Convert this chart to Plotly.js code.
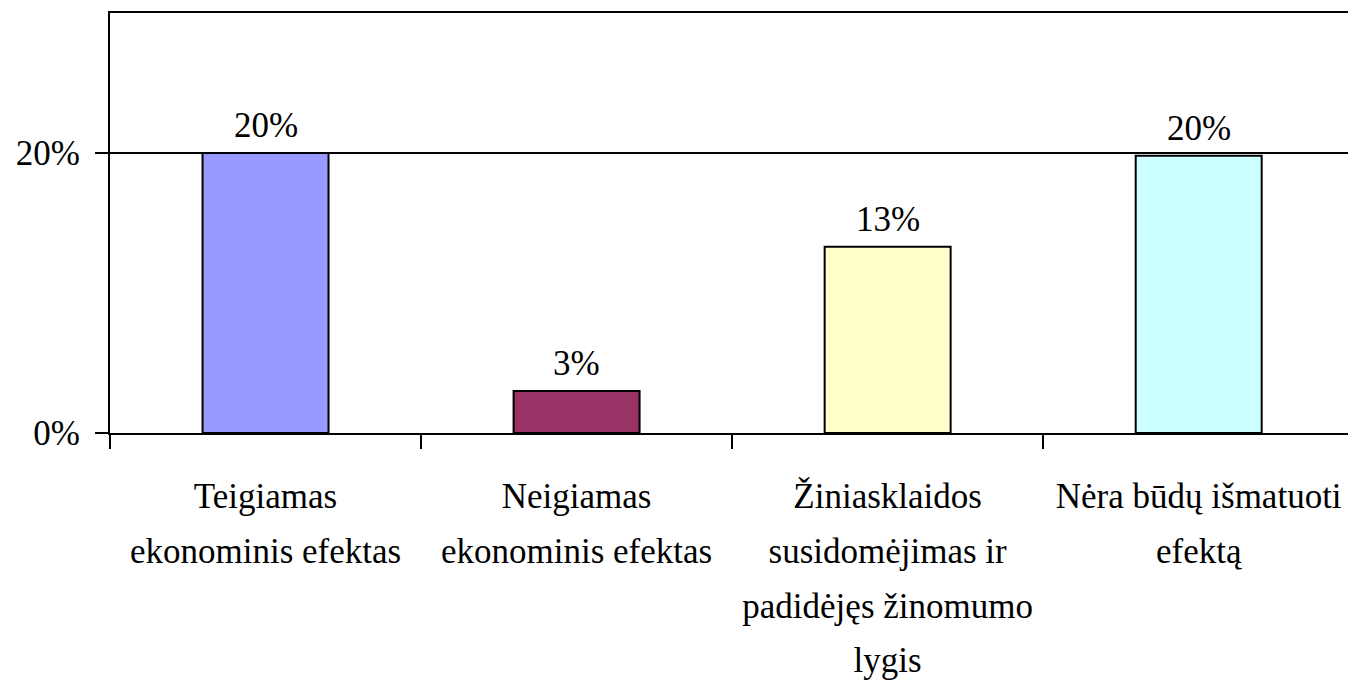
<!DOCTYPE html>
<html>
<head>
<meta charset="utf-8">
<script src="https://cdn.plot.ly/plotly-3.0.1.min.js"></script>
<style>html,body{margin:0;padding:0;background:#fff;}#chart{width:1348px;height:683px;}</style>
</head>
<body>
<div id="chart"></div>
<script>
const categories = [
  "Teigiamas<br>ekonominis efektas",
  "Neigiamas<br>ekonominis efektas",
  "Žiniasklaidos<br>susidomėjimas ir<br>padidėjęs žinomumo<br>lygis",
  "Nėra būdų išmatuoti<br>efektą"
];
const values = [20, 3, 13.3, 19.8];
const valueLabels = ["20%", "3%", "13%", "20%"];
const barColors = ["#9999FF", "#993366", "#FFFFCC", "#CCFFFF"];
const yTickVals = [0, 20];
const yTickText = ["0%", "20%"];

const FAMILY = "'Liberation Serif', 'Times New Roman', Times, serif";
function mkFont(size) { return {family: FAMILY, color: "#000", size: size}; }

// x labels: larger base font for wider line spacing, glyphs drawn at 35px
const xTickText = categories.map(c =>
  c.split("<br>").map(l => '<span style="font-size:35px">' + l + '</span>').join("<br>")
);

const trace = {
  type: "bar",
  x: categories,
  y: values,
  width: 0.405,
  marker: {color: barColors, line: {color: "#000", width: 2}},
  hoverinfo: "skip"
};

const annotations = categories.map((c, i) => ({
  x: c, y: values[i], xref: "x", yref: "y",
  text: valueLabels[i], showarrow: false,
  yanchor: "bottom", yshift: 6, font: mkFont(35)
}));

const layout = {
  width: 1348, height: 683,
  margin: {l: 110, r: 0, t: 13, b: 250},
  paper_bgcolor: "#fff", plot_bgcolor: "#fff",
  font: mkFont(35),
  showlegend: false,
  xaxis: {
    type: "category",
    range: [-0.5, 3.48],
    tickmode: "array", tickvals: categories, ticktext: xTickText,
    showline: true, linecolor: "#000", linewidth: 2, mirror: true,
    ticks: "outside", tickson: "boundaries", ticklen: 14, tickwidth: 2, tickcolor: "#000",
    showgrid: false, zeroline: false, tickangle: 0,
    tickfont: mkFont(42), ticklabelstandoff: 23
  },
  yaxis: {
    range: [0, 30],
    tickvals: yTickVals, ticktext: yTickText,
    showline: true, linecolor: "#000", linewidth: 2,
    ticks: "outside", ticklen: 13, tickwidth: 2, tickcolor: "#000",
    showgrid: true, gridcolor: "#000", gridwidth: 2,
    zeroline: false,
    tickfont: mkFont(35), ticklabelstandoff: 8
  },
  annotations: annotations
};

Plotly.newPlot("chart", [trace], layout, {displayModeBar: false, staticPlot: true});
</script>
</body>
</html>
